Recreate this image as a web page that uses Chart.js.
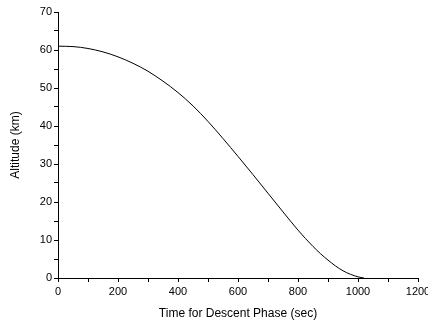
<!DOCTYPE html>
<html>
<head>
<meta charset="utf-8">
<script src="https://cdn.jsdelivr.net/npm/chart.js@4"></script>
<style>
  html, body { margin: 0; padding: 0; background: #fff; }
  #wrap { width: 428px; height: 325px; }
</style>
</head>
<body>
<div id="wrap"><canvas id="descent-chart" width="428" height="325"></canvas></div>
<script>
// Time (sec) and altitude (km)
const timeSec = [0, 50, 100, 150, 200, 250, 300, 350, 400, 450, 500, 550, 600, 650, 700, 750, 800, 850, 900, 950, 1000, 1020];
const altitudeKm = [61.0, 60.9, 60.4, 59.5, 58.2, 56.5, 54.4, 51.8, 48.8, 45.3, 41.2, 36.7, 32.0, 27.2, 22.3, 17.4, 12.6, 8.3, 4.7, 1.9, 0.3, 0];

const xTitle = 'Time for Descent Phase (sec)';
const yTitle = 'Altitude (km)';

const points = timeSec.map((t, i) => ({ x: t, y: altitudeKm[i] }));

const font = { family: '"Liberation Sans", Arial, sans-serif', size: 11 };

const ctx = document.getElementById('descent-chart').getContext('2d');
const chart = new Chart(ctx, {
    type: 'line',
    data: {
        datasets: [{
            data: points,
            borderColor: '#000',
            borderWidth: 1,
            pointRadius: 0,
            fill: false,
            cubicInterpolationMode: 'monotone'
        }]
    },
    options: {
        responsive: false,
        animation: false,
        layout: { padding: { top: 12, right: 10, left: 0, bottom: 0 } },
        plugins: { legend: { display: false }, tooltip: { enabled: false } },
        scales: {
            x: {
                type: 'linear',
                min: 0,
                max: 1200,
                ticks: {
                    stepSize: 100,
                    autoSkip: false,
                    maxRotation: 0,
                    color: '#000',
                    font: font,
                    padding: 3,
                    callback: v => (v % 200 === 0 ? v : '')
                },
                grid: { drawOnChartArea: false, drawTicks: true, tickLength: 4, color: '#000' },
                border: { display: true, color: '#000', width: 1 },
                title: { display: true, text: xTitle, color: '#000', font: { family: font.family, size: 12 }, padding: { top: 2, bottom: 4 } },
                afterFit: scale => {
                    scale.height = 47;
                    scale.paddingLeft = 0;
                    scale.paddingRight = 0;
                }
            },
            y: {
                min: 0,
                max: 70,
                ticks: {
                    stepSize: 5,
                    autoSkip: false,
                    color: '#000',
                    font: font,
                    padding: 2,
                    callback: v => (v % 10 === 0 ? v : '')
                },
                grid: { drawOnChartArea: false, drawTicks: true, tickLength: 4, color: '#000' },
                border: { display: true, color: '#000', width: 1 },
                title: { display: true, text: yTitle, color: '#000', font: { family: font.family, size: 12 }, padding: { top: 8, bottom: 4 } },
                afterFit: scale => {
                    scale.width = 58;
                    scale.paddingTop = 0;
                    scale.paddingBottom = 0;
                }
            }
        }
    }
});
</script>
</body>
</html>
